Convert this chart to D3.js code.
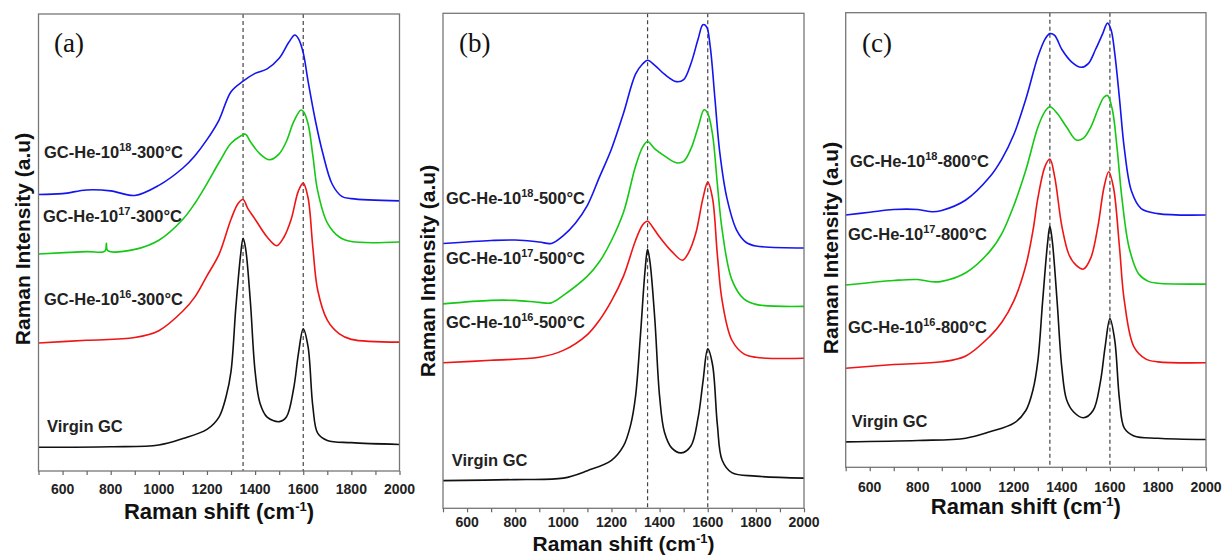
<!DOCTYPE html>
<html><head><meta charset="utf-8">
<script src="https://cdn.jsdelivr.net/npm/d3@7"></script>
<style>body{margin:0;background:#fff}</style>
</head><body>
<svg id="chart" width="1225" height="555"></svg>
<script>
// ---------- data ----------
const xTickLabels = [600, 800, 1000, 1200, 1400, 1600, 1800, 2000];
const xMinorTicks = [500,600,700,800,900,1000,1100,1200,1300,1400,1500,1600,1700,1800,1900,2000];
const dashedPeaks = [1350, 1600];
const panelLetters = ["(a)", "(b)", "(c)"];
const panelTemps = ["300", "500", "800"];
const fluenceExp = ["16", "17", "18"];
const seriesColors = ["#111111", "#f01414", "#14c814", "#1414f0"];

// Panel (a): [wavenumber, intensity]
const aVirgin = [[500,5.2],[800,5.3],[1000,5.7],[1100,7.1],[1200,9.1],[1250,11.8],[1280,16.4],[1300,21.8],[1320,35.8],[1340,47.4],[1350,50.9],[1360,48.9],[1380,37.3],[1400,21.8],[1420,14.9],[1450,11.8],[1500,10.8],[1530,11.8],[1560,18.0],[1580,25.7],[1600,31.1],[1620,27.2],[1640,14.1],[1660,8.3],[1700,6.7],[1800,6.2],[2000,5.8]];
const a1e16 = [[500,28.0],[700,28.6],[900,29.2],[1000,30.7],[1100,35.0],[1150,38.1],[1200,42.7],[1250,47.4],[1300,55.1],[1330,58.6],[1350,59.4],[1370,57.4],[1400,55.1],[1450,51.2],[1490,49.3],[1520,51.2],[1550,55.1],[1580,61.3],[1600,63.0],[1620,59.8],[1640,48.9],[1660,39.6],[1700,33.0],[1750,30.0],[1800,28.8],[2000,28.2]];
const a1e17 = [[500,47.5],[700,48.0],[776,48.1],[782,49.8],[788,48.2],[900,48.5],[1000,50.5],[1100,55.1],[1150,58.6],[1200,62.9],[1250,67.5],[1300,71.7],[1340,73.3],[1360,73.7],[1380,72.1],[1420,69.4],[1460,68.1],[1500,69.4],[1530,72.1],[1560,76.4],[1590,79.0],[1600,78.7],[1620,76.0],[1640,69.0],[1660,61.3],[1700,54.3],[1750,51.2],[1800,50.2],[2000,50.1]];
const a1e18 = [[500,60.5],[600,60.7],[700,61.5],[800,61.3],[900,60.3],[1000,62.5],[1100,66.3],[1150,69.0],[1200,72.5],[1250,76.8],[1300,83.0],[1350,85.3],[1400,87.0],[1450,88.0],[1500,90.3],[1540,93.8],[1565,95.4],[1580,94.6],[1600,91.5],[1620,85.3],[1650,76.8],[1680,69.8],[1720,62.8],[1760,60.1],[1800,59.6],[2000,59.1]];

// Panel (b)
const bVirgin = [[500,5.6],[800,5.8],[1000,6.1],[1100,7.6],[1200,9.7],[1250,12.6],[1280,16.9],[1300,22.6],[1320,34.7],[1340,48.3],[1350,52.3],[1360,49.8],[1380,38.3],[1400,22.6],[1420,15.4],[1450,12.2],[1490,11.2],[1530,12.6],[1560,18.3],[1580,25.5],[1600,32.2],[1620,29.0],[1640,16.9],[1660,9.7],[1700,7.2],[1800,6.5],[2000,6.1]];
const b1e16 = [[500,29.4],[700,29.9],[900,30.5],[1000,31.9],[1100,35.1],[1150,38.0],[1200,41.9],[1250,46.9],[1300,54.1],[1330,57.3],[1350,58.0],[1370,56.9],[1400,54.8],[1450,51.9],[1495,50.1],[1520,51.6],[1550,55.5],[1580,62.6],[1600,65.9],[1620,62.6],[1640,51.2],[1660,41.9],[1700,34.0],[1750,31.2],[1800,30.5],[2000,30.3]];
const b1e17 = [[500,41.3],[700,42.0],[800,42.0],[900,41.6],[950,41.5],[1000,43.0],[1100,46.9],[1150,49.8],[1200,54.1],[1250,59.8],[1300,69.1],[1330,73.0],[1350,74.1],[1380,72.6],[1420,71.2],[1470,69.8],[1500,70.1],[1530,72.6],[1560,77.0],[1585,80.5],[1600,79.8],[1620,75.5],[1640,65.5],[1660,56.2],[1700,46.2],[1750,42.3],[1800,41.2],[2000,40.8]];
const b1e18 = [[500,53.5],[700,54.1],[800,54.2],[900,53.8],[950,53.5],[1000,55.1],[1050,57.6],[1100,61.2],[1150,66.9],[1200,72.6],[1250,79.8],[1300,87.7],[1330,89.8],[1350,90.5],[1380,89.5],[1420,87.7],[1470,86.2],[1500,86.6],[1530,89.8],[1560,94.8],[1580,97.7],[1595,97.3],[1610,93.4],[1630,82.7],[1650,71.9],[1680,62.6],[1720,56.2],[1760,53.7],[1800,53.0],[2000,52.6]];

// Panel (c)
const cVirgin = [[500,5.6],[800,5.9],[1000,6.4],[1100,7.8],[1200,9.7],[1250,12.5],[1280,17.1],[1300,23.4],[1320,36.6],[1340,49.1],[1350,53.0],[1360,49.8],[1380,36.6],[1400,21.8],[1420,14.8],[1450,12.1],[1490,10.9],[1530,12.5],[1560,18.7],[1580,26.5],[1600,32.7],[1620,28.0],[1640,14.8],[1660,8.6],[1700,6.9],[1800,6.4],[2000,6.1]];
const c1e16 = [[500,21.8],[700,22.6],[900,23.2],[1000,24.5],[1100,28.8],[1150,31.9],[1200,36.6],[1250,44.4],[1280,52.2],[1300,59.2],[1330,66.2],[1350,67.8],[1370,63.9],[1400,53.0],[1430,46.7],[1460,44.4],[1490,43.6],[1520,46.0],[1550,53.0],[1575,61.5],[1595,65.0],[1615,61.5],[1640,48.3],[1660,36.6],[1700,26.5],[1750,23.8],[1800,23.2],[2000,23.0]];
const c1e17 = [[500,40.1],[700,41.1],[800,41.3],[860,40.8],[900,40.9],[1000,42.8],[1100,47.5],[1150,51.4],[1200,57.6],[1250,65.4],[1300,74.8],[1330,78.3],[1350,79.3],[1380,77.9],[1420,74.8],[1460,72.0],[1490,72.4],[1520,74.8],[1550,78.7],[1575,81.4],[1590,81.8],[1610,78.7],[1630,70.1],[1650,59.2],[1680,48.3],[1720,42.5],[1760,40.9],[1800,40.5],[2000,40.3]];
const c1e18 = [[500,55.5],[600,56.1],[700,56.7],[800,56.7],[860,56.2],[900,56.5],[1000,58.8],[1100,63.9],[1150,67.8],[1200,73.2],[1250,81.0],[1300,90.3],[1330,94.2],[1350,95.4],[1370,95.0],[1400,91.9],[1440,89.2],[1480,88.0],[1510,88.8],[1540,91.9],[1570,95.4],[1590,97.7],[1605,96.2],[1620,91.1],[1640,81.0],[1660,70.1],[1690,60.7],[1730,56.9],[1800,55.8],[2000,55.5]];

const panelSeries = [
  [aVirgin, a1e16, a1e17, a1e18],
  [bVirgin, b1e16, b1e17, b1e18],
  [cVirgin, c1e16, c1e17, c1e18]
];

// ---------- layout ----------
const layouts = [
  {left:38.5, right:399.5, top:14, bottom:471, tickBase:494, titleBase:519, titleSize:22, yTitle:[22,239],
   letter:[54,51.5], labels:[[47,426.5],[44,299],[43,216],[44,152]]},
  {left:443, right:804, top:13.3, bottom:508.3, tickBase:526.5, titleBase:550.5, titleSize:21, yTitle:[427,271],
   letter:[459,51.5], labels:[[451.7,460],[446,322],[446,258],[446,198]]},
  {left:845.7, right:1206, top:12.7, bottom:467.3, tickBase:491.5, titleBase:514, titleSize:22, yTitle:[830,248],
   letter:[862,51.5], labels:[[851.7,421],[848,327.4],[848,233.6],[850,161]]}
];

const svg = d3.select("#chart");
svg.append("rect").attr("width",1225).attr("height",555).attr("fill","#fff");
const sans = "'Liberation Sans', Arial, sans-serif";

layouts.forEach((L, p) => {
  const x = d3.scaleLinear().domain([500, 2000]).range([L.left, L.right]);
  const y = d3.scaleLinear().domain([0, 100]).range([L.bottom, L.top]);
  const g = svg.append("g");

  // dashed reference lines
  g.selectAll("line.dash").data(dashedPeaks).join("line")
    .attr("x1", d => x(d)).attr("x2", d => x(d))
    .attr("y1", L.top).attr("y2", L.bottom)
    .attr("stroke", "#444").attr("stroke-width", 1.2).attr("stroke-dasharray", "4,3");

  // curves
  const line = d3.line().x(d => x(d[0])).y(d => y(d[1])).curve(d3.curveCatmullRom.alpha(0.5));
  panelSeries[p].forEach((s, i) => {
    g.append("path").datum(s).attr("d", line)
      .attr("fill", "none").attr("stroke", seriesColors[i]).attr("stroke-width", 1.6)
      .attr("stroke-linejoin", "round");
  });

  // frame
  g.append("rect").attr("x", L.left).attr("y", L.top)
    .attr("width", L.right - L.left).attr("height", L.bottom - L.top)
    .attr("fill", "none").attr("stroke", "#777").attr("stroke-width", 1.3);

  // x axis
  const ax = g.append("g").attr("transform", `translate(0,${L.bottom})`)
    .call(d3.axisBottom(x).tickValues(xMinorTicks).tickSize(4).tickFormat(""));
  ax.select(".domain").remove();
  ax.selectAll(".tick line").attr("stroke", "#666").attr("stroke-width", 1.2);

  g.selectAll("text.tl").data(xTickLabels).join("text")
    .attr("x", d => x(d)).attr("y", L.tickBase).attr("text-anchor", "middle")
    .attr("font-family", sans).attr("font-weight", "bold").attr("font-size", 14)
    .attr("fill", "#222").text(d => d);

  // x title
  const xt = g.append("text").attr("x", (L.left + L.right) / 2).attr("y", L.titleBase)
    .attr("text-anchor", "middle").attr("font-family", sans).attr("font-weight", "bold")
    .attr("font-size", L.titleSize).attr("fill", "#111");
  xt.append("tspan").text("Raman shift (cm");
  xt.append("tspan").attr("font-size", 13).attr("dy", -8).text("-1");
  xt.append("tspan").attr("dy", 8).text(")");

  // y title
  g.append("text").attr("transform", `translate(${L.yTitle[0]},${L.yTitle[1]}) rotate(-90)`)
    .attr("text-anchor", "middle").attr("dy", "0.36em")
    .attr("font-family", sans).attr("font-weight", "bold").attr("font-size", 21)
    .attr("fill", "#111").text("Raman Intensity (a.u)");

  // panel letter
  g.append("text").attr("x", L.letter[0]).attr("y", L.letter[1])
    .attr("font-family", "'Liberation Serif', 'Times New Roman', serif").attr("font-size", 27)
    .attr("fill", "#111").text(panelLetters[p]);

  // series labels
  L.labels.forEach((pos, i) => {
    const t = g.append("text").attr("x", pos[0]).attr("y", pos[1]).attr("dy", "0.36em")
      .attr("font-family", sans).attr("font-weight", "bold").attr("font-size", 16.5).attr("fill", "#222");
    if (i === 0) { t.text("Virgin GC"); return; }
    t.append("tspan").text("GC-He-10");
    t.append("tspan").attr("font-size", 11).attr("dy", -7).text(fluenceExp[i - 1]);
    t.append("tspan").attr("dy", 7).text("-" + panelTemps[p] + "°C");
  });
});
</script>
</body></html>
